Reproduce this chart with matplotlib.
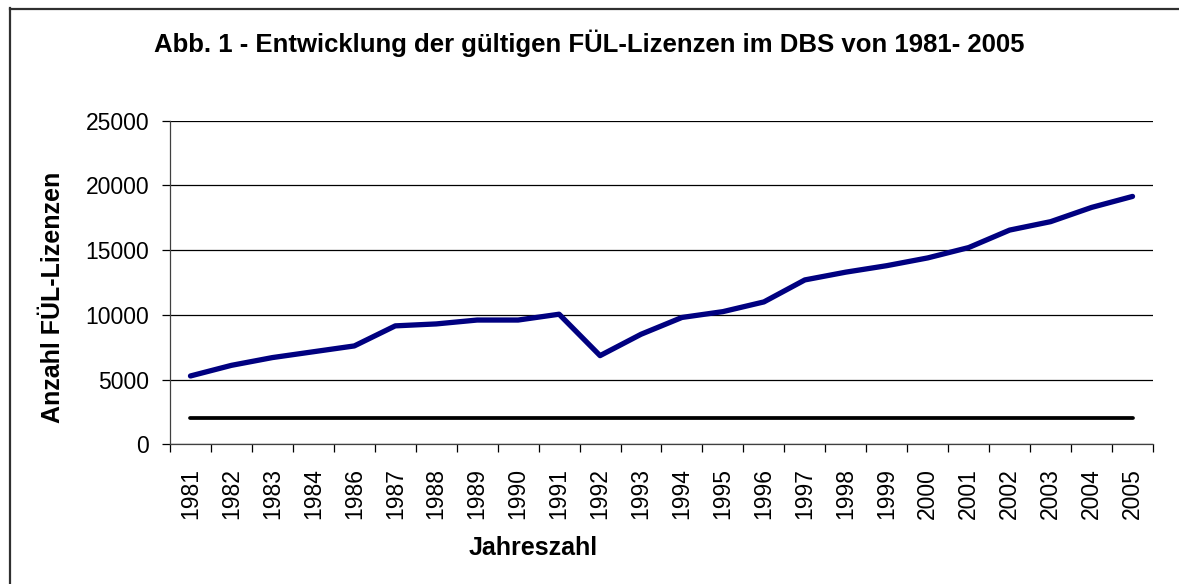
import matplotlib
matplotlib.use("Agg")
import matplotlib.pyplot as plt
from matplotlib.lines import Line2D

years = ["1981", "1982", "1983", "1984", "1986", "1987", "1988", "1989", "1990",
         "1991", "1992", "1993", "1994", "1995", "1996", "1997", "1998", "1999",
         "2000", "2001", "2002", "2003", "2004", "2005"]
lizenzen = [5280, 6100, 6700, 7150, 7600, 9150, 9300, 9600, 9600,
            10050, 6850, 8500, 9800, 10250, 11000, 12700, 13300, 13800,
            14400, 15200, 16550, 17200, 18300, 19150]
referenz = [2000] * len(years)
yticks = [0, 5000, 10000, 15000, 20000, 25000]

plt.rcParams['font.family'] = ['Liberation Sans', 'DejaVu Sans']

W, H = 1179, 584
fig = plt.figure(figsize=(W / 100, H / 100), dpi=100)
# chart-area frame: only left and top edges are visible in the reference
fig.lines.append(Line2D([10 / W, 10 / W], [0, 1 - 8 / H], transform=fig.transFigure,
                        color='#303030', linewidth=1.6))
fig.lines.append(Line2D([10 / W, 1], [1 - 8.5 / H, 1 - 8.5 / H], transform=fig.transFigure,
                        color='#303030', linewidth=1.6))

ax = fig.add_axes([170 / W, 1 - 444.3 / H, (1153 - 170) / W, (444.3 - 120.7) / H])

x = list(range(len(years)))
ax.plot(x, referenz, color='black', linewidth=2.7, solid_capstyle='round', zorder=3)
ax.plot(x, lizenzen, color='#000080', linewidth=3.8, solid_capstyle='round',
        solid_joinstyle='round', zorder=4)

ax.set_xlim(-0.5, len(years) - 0.5)
ax.set_ylim(0, 25000)
ax.set_yticks(yticks)
ax.set_yticklabels([str(v) for v in yticks], fontsize=16.5)
ax.yaxis.grid(True, color='black', linewidth=0.9)
ax.set_axisbelow(True)

ax.set_xticks(x)
ax.set_xticklabels(years, rotation=90, fontsize=16.5)
ax.tick_params(axis='x', length=0, pad=17)
ax.set_xticks([i - 0.5 for i in range(len(years) + 1)], minor=True)
ax.tick_params(axis='x', which='minor', length=6, width=0.9, direction='out')
ax.tick_params(axis='y', length=6, width=0.9, direction='out', pad=9)

for s in ['top', 'right']:
    ax.spines[s].set_visible(False)
for s in ['left', 'bottom']:
    ax.spines[s].set_linewidth(0.9)
    ax.spines[s].set_color('#404040')

fig.text(53 / W, 1 - 297 / H, "Anzahl FÜL-Lizenzen", rotation=90,
         ha='center', va='center', fontsize=18, fontweight='bold')
fig.text(533 / W, 1 - 548 / H, "Jahreszahl",
         ha='center', va='center', fontsize=18, fontweight='bold')
fig.text(589 / W, 1 - 51.7 / H,
         "Abb. 1 - Entwicklung der gültigen FÜL-Lizenzen im DBS von 1981- 2005",
         ha='center', va='baseline', fontsize=18.5, fontweight='bold')

fig.savefig("out.png", dpi=100)
